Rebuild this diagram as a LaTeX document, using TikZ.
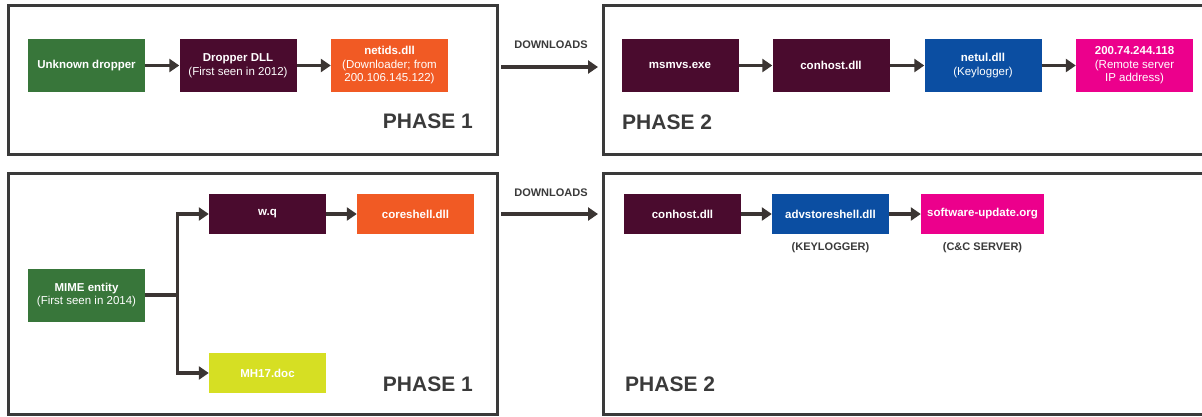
\documentclass[tikz,border=0pt]{standalone}
\usepackage{fontspec}
\setmainfont{Liberation Sans}
\usetikzlibrary{arrows.meta}
\definecolor{dropgreen}{HTML}{38763A}
\definecolor{dllpurple}{HTML}{4A0B2E}
\definecolor{netorange}{HTML}{F15A24}
\definecolor{logblue}{HTML}{0B4EA2}
\definecolor{srvmagenta}{HTML}{EC008C}
\definecolor{docyellow}{HTML}{D6DF23}
\definecolor{framegray}{HTML}{3A3A3A}
\definecolor{arrowgray}{HTML}{3B3533}

\begin{document}
\begin{tikzpicture}[
        x=1pt, y=-1pt,
        box/.style={rectangle, minimum width=117pt, minimum height=53pt, inner sep=2pt, text=white, align=center, font=\fontsize{11.5}{13.5}\selectfont},
        smallbox/.style={box, minimum height=40pt},
        panel/.style={draw=framegray, line width=3pt},
        phase/.style={inner sep=0pt, text=framegray, font=\fontsize{21}{24}\selectfont\bfseries},
        tag/.style={inner sep=0pt, text=framegray, font=\fontsize{11}{13}\selectfont\bfseries},
        arrow/.style={-{Triangle[length=10pt,width=13pt]}, line width=3.2pt, draw=arrowgray}
    ]
    \useasboundingbox (0,0) rectangle (1202,416);

    % Panels
    \draw[panel] (8,5) rectangle (497,154);
    \draw[panel] (1210,5) -- (603,5) -- (603,154) -- (1210,154);
    \draw[panel] (8,173) rectangle (497,414);
    \draw[panel] (1210,173) -- (603,173) -- (603,414) -- (1210,414);

    % Phase 1 (2012)
    \node[box, fill=dropgreen] (dropper) at (86.5,65.5) {\textbf{Unknown dropper}};
    \node[box, fill=dllpurple] (dropdll) at (238,65.5) {\textbf{Dropper DLL}\\(First seen in 2012)};
    \node[box, fill=netorange] (netids) at (389.5,65.5) {\textbf{netids.dll}\\(Downloader; from\\200.106.145.122)};
    \node[phase, anchor=east] (phaseA) at (473,121) {PHASE 1};

    % Phase 2 (2012)
    \node[box, fill=dllpurple] (msmvs) at (680,65.5) {\textbf{msmvs.exe}};
    \node[box, fill=dllpurple] (conhostA) at (831,65.5) {\textbf{conhost.dll}};
    \node[box, fill=logblue] (netul) at (983,65.5) {\textbf{netul.dll}\\(Keylogger)};
    \node[box, fill=srvmagenta] (remote) at (1134.5,65.5) {\textbf{200.74.244.118}\\(Remote server\\IP address)};
    \node[phase, anchor=west] (phaseB) at (622,122) {PHASE 2};

    % Phase 1 (2014)
    \node[box, fill=dropgreen] (mime) at (86.5,295) {\textbf{MIME entity}\\(First seen in 2014)};
    \node[smallbox, fill=dllpurple] (wq) at (267.5,214) {\textbf{w.q}};
    \node[smallbox, fill=netorange] (coreshell) at (415.5,214) {\textbf{coreshell.dll}};
    \node[smallbox, fill=docyellow] (mh17) at (267.5,373) {\textbf{MH17.doc}};
    \node[phase, anchor=east] (phaseC) at (473,384) {PHASE 1};

    % Phase 2 (2014)
    \node[smallbox, fill=dllpurple] (conhostB) at (682.5,214) {\textbf{conhost.dll}};
    \node[smallbox, fill=logblue] (advstore) at (830.5,214) {\textbf{advstoreshell.dll}};
    \node[smallbox, fill=srvmagenta, minimum width=123pt] (swupdate) at (982.5,214) {\textbf{software-update.org}};
    \node[tag] (keylog) at (830.5,248) {(KEYLOGGER)};
    \node[tag] (ccserver) at (982.5,248) {(C\&C SERVER)};
    \node[phase, anchor=west] (phaseD) at (625,384) {PHASE 2};

    % Downloads between phases
    \node[tag] (dlA) at (551,45) {DOWNLOADS};
    \node[tag] (dlB) at (551,193) {DOWNLOADS};
    \coordinate (dlAfrom) at (501,67);
    \coordinate (dlAto) at (598,67);
    \coordinate (dlBfrom) at (501,214);
    \coordinate (dlBto) at (598,214);
    \draw[arrow] (dlAfrom) -- (dlAto);
    \draw[arrow] (dlBfrom) -- (dlBto);

    % Chains
    \draw[arrow] (dropper) -- (dropdll);
    \draw[arrow] (dropdll) -- (netids);
    \draw[arrow] (msmvs) -- (conhostA);
    \draw[arrow] (conhostA) -- (netul);
    \draw[arrow] (netul) -- (remote);
    \draw[arrow] (wq) -- (coreshell);
    \draw[arrow] (conhostB) -- (advstore);
    \draw[arrow] (advstore) -- (swupdate);

    % Fork from MIME entity
    \draw[line width=3.2pt, draw=arrowgray] (mime.east) -- ++(32,0) coordinate (fork);
    \draw[arrow] (fork) |- (wq.west);
    \draw[arrow] (fork) |- (mh17.west);

\end{tikzpicture}
\end{document}
